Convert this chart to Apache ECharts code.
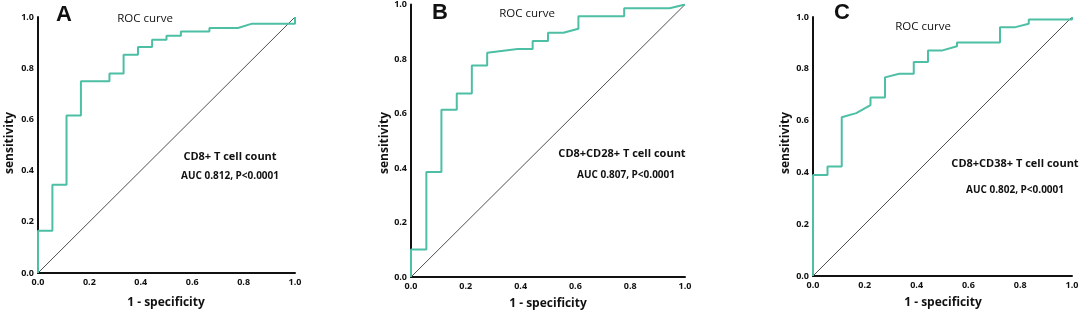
<!DOCTYPE html>
<html>
<head>
<meta charset="utf-8">
<script src="https://cdn.jsdelivr.net/npm/echarts@6/dist/echarts.min.js"></script>
<style>
  html, body { margin: 0; padding: 0; background: #fff; }
  #chart { width: 1084px; height: 314px; }
</style>
</head>
<body>
<div id="chart"></div>
<script>
var chart = echarts.init(document.getElementById('chart'));

// axis ticks shared by all three panels
var tickValues = [0, 0.2, 0.4, 0.6, 0.8, 1.0];

// panel A - CD8+ T cell count
var rocAx = [0, 0, 0.056, 0.056, 0.111, 0.111, 0.167, 0.167, 0.278, 0.278, 0.333, 0.333, 0.389, 0.389, 0.444, 0.444, 0.5, 0.5, 0.556, 0.556, 0.667, 0.667, 0.778, 0.833, 1.0, 1.0];
var rocAy = [0, 0.165, 0.165, 0.345, 0.345, 0.615, 0.615, 0.749, 0.749, 0.779, 0.779, 0.853, 0.853, 0.883, 0.883, 0.911, 0.911, 0.927, 0.927, 0.943, 0.943, 0.957, 0.957, 0.974, 0.974, 1.0];

// panel B - CD8+CD28+ T cell count
var rocBx = [0, 0, 0.056, 0.056, 0.111, 0.111, 0.167, 0.167, 0.222, 0.222, 0.278, 0.278, 0.389, 0.444, 0.444, 0.5, 0.5, 0.556, 0.611, 0.611, 0.778, 0.778, 0.944, 1.0];
var rocBy = [0, 0.101, 0.101, 0.385, 0.385, 0.614, 0.614, 0.673, 0.673, 0.776, 0.776, 0.823, 0.837, 0.837, 0.866, 0.866, 0.896, 0.896, 0.911, 0.957, 0.957, 0.986, 0.986, 1.0];

// panel C - CD8+CD38+ T cell count
var rocCx = [0, 0, 0.056, 0.056, 0.111, 0.111, 0.167, 0.167, 0.222, 0.222, 0.278, 0.278, 0.333, 0.389, 0.389, 0.444, 0.444, 0.5, 0.556, 0.556, 0.722, 0.722, 0.778, 0.833, 0.833, 1.0, 1.0];
var rocCy = [0, 0.390, 0.390, 0.423, 0.423, 0.613, 0.629, 0.629, 0.660, 0.689, 0.689, 0.767, 0.781, 0.781, 0.826, 0.826, 0.871, 0.871, 0.887, 0.902, 0.902, 0.960, 0.960, 0.974, 0.990, 0.990, 1.0];

var panels = [
  { letter: 'A', name: 'CD8+ T cell count', auc: 'AUC 0.812, P<0.0001', x: rocAx, y: rocAy,
    grid: { left: 38, top: 17, width: 257, height: 256 } },
  { letter: 'B', name: 'CD8+CD28+ T cell count', auc: 'AUC 0.807, P<0.0001', x: rocBx, y: rocBy,
    grid: { left: 411, top: 4, width: 274, height: 273 } },
  { letter: 'C', name: 'CD8+CD38+ T cell count', auc: 'AUC 0.802, P<0.0001', x: rocCx, y: rocCy,
    grid: { left: 813, top: 17, width: 259, height: 259 } }
];

// free text placement per panel (pixel anchors)
var textPos = [
  { letter: [56, 4], roc: [145, 19], name: [230, 157], auc: [230, 176], ylab: [10, 143], xlab: [166, 303] },
  { letter: [432, 2], roc: [527, 14], name: [622, 154], auc: [626, 175], ylab: [385, 143], xlab: [548, 304] },
  { letter: [834, 2], roc: [923, 27], name: [1015, 164], auc: [1015, 190], ylab: [786, 143], xlab: [943, 303] }
];

var font = '"Open Sans", "DejaVu Sans", sans-serif';
var teal = '#4dbfa5';

var grids = [], xAxes = [], yAxes = [], series = [], graphics = [];

function pairs(xs, ys) {
  var out = [];
  for (var i = 0; i < xs.length; i++) out.push([xs[i], ys[i]]);
  return out;
}

panels.forEach(function (p, i) {
  grids.push(p.grid);
  var axisCommon = {
    type: 'value', min: 0, max: 1, interval: 0.2, gridIndex: i,
    splitLine: { show: false },
    axisTick: { show: false },
    axisLine: { show: true, lineStyle: { color: '#111', width: 2 } },
    axisLabel: {
      color: '#111', fontSize: 9, fontWeight: 'bold', fontFamily: font,
      formatter: function (v) { return v.toFixed(1); }
    }
  };
  xAxes.push(Object.assign({}, axisCommon, {
    axisLabel: Object.assign({}, axisCommon.axisLabel, { margin: 5 })
  }));
  yAxes.push(Object.assign({}, axisCommon, {
    axisLabel: Object.assign({}, axisCommon.axisLabel, { margin: 4 })
  }));

  series.push({
    type: 'line', xAxisIndex: i, yAxisIndex: i,
    data: [[0, 0], [1, 1]],
    showSymbol: false, silent: true,
    lineStyle: { color: '#222', width: 0.8 }
  });
  series.push({
    type: 'line', xAxisIndex: i, yAxisIndex: i,
    data: pairs(p.x, p.y),
    showSymbol: false, silent: true,
    lineStyle: { color: teal, width: 2 }
  });

  var t = textPos[i];
  graphics.push({ type: 'text', x: t.letter[0], y: t.letter[1],
    style: { text: p.letter, font: 'bold 22px "Liberation Sans", Arial, sans-serif', fill: '#111' } });
  graphics.push({ type: 'text', x: t.roc[0], y: t.roc[1],
    style: { text: 'ROC curve', font: '11.5px ' + font, fill: '#111', textAlign: 'center', textVerticalAlign: 'middle' } });
  graphics.push({ type: 'text', x: t.name[0], y: t.name[1],
    style: { text: p.name, font: 'bold 11px ' + font, fill: '#111', textAlign: 'center', textVerticalAlign: 'middle' } });
  graphics.push({ type: 'text', x: t.auc[0], y: t.auc[1],
    style: { text: p.auc, font: 'bold 10px ' + font, fill: '#111', textAlign: 'center', textVerticalAlign: 'middle' } });
  graphics.push({ type: 'text', x: t.ylab[0], y: t.ylab[1], rotation: Math.PI / 2,
    style: { text: 'sensitivity', font: 'bold 12px ' + font, fill: '#111', textAlign: 'center', textVerticalAlign: 'middle' } });
  graphics.push({ type: 'text', x: t.xlab[0], y: t.xlab[1],
    style: { text: '1 - specificity', font: 'bold 12px ' + font, fill: '#111', textAlign: 'center', textVerticalAlign: 'middle' } });
});

var option = {
  backgroundColor: '#fff',
  animation: false,
  grid: grids,
  xAxis: xAxes,
  yAxis: yAxes,
  series: series,
  graphic: graphics
};

chart.setOption(option);

window.onresize = function () {
  chart.resize();
};
</script>
</body>
</html>
